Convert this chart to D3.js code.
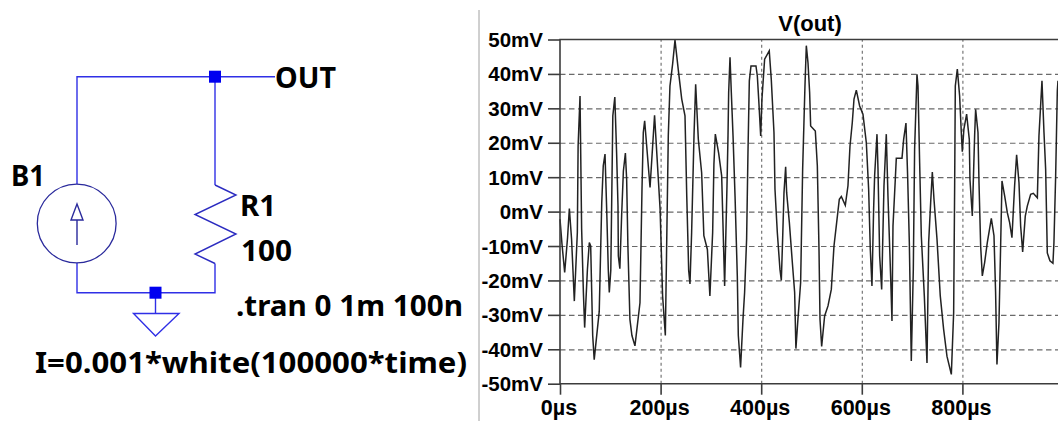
<!DOCTYPE html>
<html>
<head>
<meta charset="utf-8">
<script src="https://d3js.org/d3.v7.min.js"></script>
<style>
    html, body { margin: 0; padding: 0; background: #fff; overflow: hidden; }
    svg { display: block; }
    text { font-family: "Liberation Sans", Arial, sans-serif; font-weight: bold; fill: #000; }
    .sch text { font-family: "Noto Sans", sans-serif; }
</style>
</head>
<body>
<div id="chart"></div>
<script>
// V(out) trace: time in us, voltage in mV
const times = [
    0, 4, 9.3, 15, 18.6, 23, 28.5, 34.5, 36, 39.8, 43, 46.5, 49, 54.5, 58.3, 61, 65, 68, 78, 83, 86, 89.5,
    92.8, 96, 98, 101, 105, 109, 112.6, 115.3, 116, 119, 122.5, 126, 130, 132.5, 135, 139, 143, 149, 159,
    163, 165.6, 168.3, 179, 188, 199, 204, 209.4, 215.3, 218.6, 224, 228.6, 235, 242, 248.5, 252, 255.8, 258.4,
    261.7, 266.4, 269.7, 275, 281.6, 286, 293, 298, 303.5, 306, 308.8, 315.4, 321.4, 327.3, 332, 334, 335.3,
    338, 340.6, 344, 348, 352.5, 354.5, 359, 363.8, 367, 371, 373.7, 376.4, 379.7, 389.6, 392.3, 395, 399,
    401.5, 406.8, 416, 420, 425.4, 427.4, 432, 437.3, 440, 442.6, 445.3, 448.6, 450.6, 456, 461.9, 466.5, 469,
    473, 478.4, 482.4, 487, 489.7, 493, 496.3, 498.3, 507.6, 511.6, 514.9, 516.9, 520.2, 526.1, 532.8, 539.4,
    544.7, 550, 555.3, 559.3, 567.2, 572.5, 576.5, 581.1, 584.5, 589.1, 595.7, 602.3, 609, 613.6, 616.9, 620.2,
    623.5, 625.5, 630.2, 632.2, 635.5, 639.5, 644.1, 648.7, 652, 657.3, 660, 662, 666.6, 668.6, 679.9, 683.2,
    687.8, 691.1, 694.5, 698.4, 702.4, 705, 709.7, 711.7, 715, 718.3, 724.3, 729.6, 732.9, 736.9, 740.2, 743.5,
    749.5, 756, 762.7, 769.3, 778, 782.6, 784.6, 785.9, 789.9, 794.5, 797.8, 799.8, 803, 808.4, 813.7, 815,
    819.7, 824.3, 826.3, 831, 833, 836.3, 839.6, 844.2, 849.5, 857.5, 862.8, 866, 868.7, 872.7, 876, 878.7,
    884, 889.3, 893.9, 898.5, 903.8, 907.8, 912.5, 915.8, 919.8, 925, 929, 935.7, 941, 949, 952.2, 958.2,
    962.2, 965.5, 968.8, 974, 980, 982, 985.4, 988.7, 990, 1000
];
const volts = [
    -2.2, -9.5, -17.7, -7.6, 0.9, -8, -26, -6, 19, 33.6, -5, -23.5, -33.7, -16.8, -9, -10, -36, -43, -29, 2.6, 13.3, 16.7,
    0.7, -16.8, -23.5, -17, 27.8, 33.3, 16.7, 1.6, -12.9, -16.6, -1.3, 11.8, 17, 9.4, -10, -31.3, -36, -39, -26.5,
    6.5, 23, 26.4, 7, 28, 0.7, -24.5, -36, 22, 36.5, 43, 49.8, 41.4, 32.7, 27.8, 4.5, -17, -21,
    -6, 22, 37, 21, 11.3, -7, -11, -24.5, -6, 13.8, 22.5, 17, 10.4, -21.6, 7.5, 22, 34.6,
    44.8, 34.6, 22, 4.5, -18.7, -36, -45.3, -31.3, -23.5, -8, 17.2, 38, 42.3, 42.3, 39.4, 32.7, 22,
    32.7, 44.3, 46.7, 38.5, 23, 6.5, -6, -16.8, -20, -8, 5.5, 13, 5.5, -3.2, -14.8, -23.5, -39.8,
    -31.3, -20.6, 12.3, 36.5, 48.2, 43.3, 34.6, 24.9, 23.4, 13.3, -11, -31.3, -39.2, -30.3, -27.4, -22.6,
    -10, -3.2, 3.6, 4.4, 1.8, 7.5, 19, 25.9, 32.7, 35.3, 30.7, 28.3, 20, 6.5, -11, -21.6,
    0.7, 10.4, 22.5, 12.3, -12.9, -22.6, 7.5, 22.5, 4.6, -18.7, -31.8, -4.2, 9.4, 15.5, 15.5, 21,
    25.7, 10.4, -9, -43.4, -16.8, 18.1, 39.9, 36.5, 14.2, -7, -24.5, -44, -9, 2.6, 11.5, 3.6,
    -8, -24.5, -34.2, -42, -47.3, -29.4, 7.5, 36.5, 41.4, 33.6, 23, 17.4, 24, 28.3, 21, 9.4,
    -1.3, 22, 29.7, 23, 8.4, -10, -18.7, -14.8, -9, -2, -7, -23.5, -44.4, -32.3, -10, 8.9,
    4.6, -0.3, -3.2, -7.6, 7.5, 16.5, 8.4, -4.2, -11.7, -1.3, 1.6, 5, 5.3, 4, 22, 38,
    23, 12.3, -12, -14.3, -15, -9, 10.4, 35, 38, 30
];
const yTicks = [50, 40, 30, 20, 10, 0, -10, -20, -30, -40, -50];
const xTicks = [0, 200, 400, 600, 800];
const plotTitle = "V(out)";

const width = 1058, height = 421;
const svg = d3.select("#chart").append("svg")
    .attr("width", width)
    .attr("height", height);

// Define scales
const xScale = d3.scaleLinear().domain([0, 1000]).range([560, 1063]);
const yScale = d3.scaleLinear().domain([-50, 50]).range([383.7, 39.5]);

// Grid first so the trace sits on top
svg.append("g")
    .attr("class", "grid")
    .attr("transform", "translate(560,0)")
    .call(d3.axisLeft(yScale).tickValues(yTicks.slice(1, -1)).tickSize(-498).tickFormat(""))
    .call(g => g.select(".domain").remove())
    .selectAll("line")
    .attr("stroke", "#6a6a6a").attr("stroke-width", 1.2).attr("stroke-dasharray", "5.5,3.5");

svg.append("g")
    .attr("class", "grid")
    .attr("transform", "translate(0,383.7)")
    .call(d3.axisBottom(xScale).tickValues(xTicks.slice(1)).tickSize(-344).tickFormat(""))
    .call(g => g.select(".domain").remove())
    .selectAll("line")
    .attr("stroke", "#6a6a6a").attr("stroke-width", 1.1).attr("stroke-dasharray", "3,3");

// Trace
const line = d3.line()
    .x(d => xScale(d[0]))
    .y(d => yScale(d[1]));

svg.append("path")
    .datum(d3.zip(times, volts))
    .attr("fill", "none")
    .attr("stroke", "#222")
    .attr("stroke-width", 1.5)
    .attr("d", line);

// Axes
const yAxis = svg.append("g")
    .attr("transform", "translate(560,0)")
    .call(d3.axisLeft(yScale).tickValues(yTicks).tickSize(12).tickPadding(5).tickFormat(d => d + "mV"));
const xAxis = svg.append("g")
    .attr("transform", "translate(0,383.7)")
    .call(d3.axisBottom(xScale).tickValues(xTicks).tickSize(11).tickPadding(5).tickFormat(d => d + "µs"));

[yAxis, xAxis].forEach(g => {
    g.select(".domain").remove();
    g.selectAll("line").attr("stroke", "#3c3c3c").attr("stroke-width", 1.6);
    g.selectAll("text").attr("fill", "#000");
});
yAxis.selectAll("text").style("font-size", "20.5px").attr("dy", "0.34em");
xAxis.selectAll("text").style("font-size", "21.5px").attr("dx", "-1.5");

// Plot frame: left, top and bottom only, the right side runs off the window
svg.append("path")
    .attr("fill", "none")
    .attr("stroke", "#3c3c3c")
    .attr("stroke-width", 1.6)
    .attr("d", `M${width},39.5H560V383.7H${width}`);

svg.append("text")
    .attr("x", 810).attr("y", 31)
    .attr("text-anchor", "middle")
    .style("font-size", "22px")
    .text(plotTitle);

// Separator between schematic and plot
svg.append("line")
    .attr("x1", 479).attr("x2", 479).attr("y1", 10).attr("y2", height)
    .attr("stroke", "#a0a0a0").attr("stroke-width", 1);

// Schematic
const sch = svg.append("g").attr("class", "sch").attr("fill", "none");
const wire = "#2f2fe6", part = "#2a2a9c";

function path(d, color) {
    sch.append("path").attr("d", d).attr("stroke", color).attr("stroke-width", 1.4);
}
path("M275,76.7H77V184", wire);
path("M215,76.7V185", wire);
path("M77,263V292.7H215V263.5", wire);
path("M155.5,292.7V313.5", wire);
path("M215,185L236,195L195,214.5L236,234L195,254L215,263.5", "#2b2bc0");
path("M133.5,313.5H179L155.5,336Z", wire);

sch.append("circle").attr("cx", 76.7).attr("cy", 223.5).attr("r", 39.4)
    .attr("stroke", part).attr("stroke-width", 1.3);
path("M77,204L83,220H71ZM77,220V245", part);

[[215, 76.7], [155.5, 292.7]].forEach(([cx, cy]) => {
    sch.append("rect")
        .attr("x", cx - 6).attr("y", cy - 6)
        .attr("width", 12).attr("height", 12)
        .attr("fill", "#0000f0");
});

function label(str, x, y, len) {
    sch.append("text")
        .attr("x", x).attr("y", y)
        .attr("textLength", len).attr("lengthAdjust", "spacingAndGlyphs")
        .style("font-size", "28px")
        .text(str);
}
label("OUT", 275, 88, 61);
label("B1", 11, 186, 34);
label("R1", 240, 216, 36);
label("100", 241, 260.5, 51);
label(".tran 0 1m 100n", 236, 315.5, 227);
label("I=0.001*white(100000*time)", 35, 373, 432);
</script>
</body>
</html>
